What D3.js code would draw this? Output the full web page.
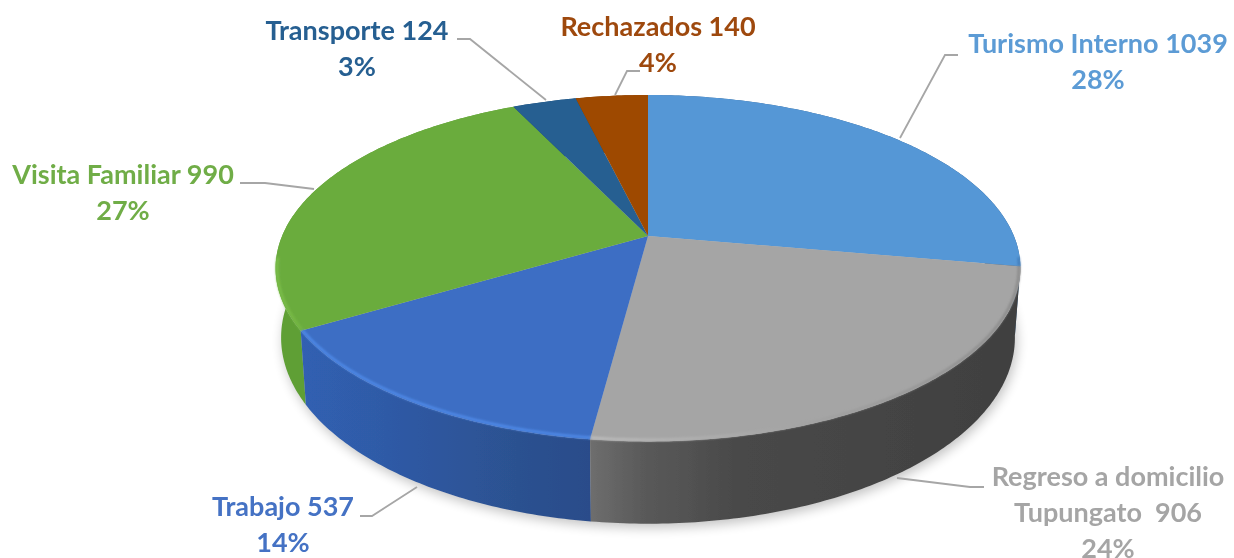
<!DOCTYPE html>
<html><head><meta charset="utf-8">
<script src="https://cdn.jsdelivr.net/npm/d3@7"></script>
<style>html,body{margin:0;background:#fff;overflow:hidden}text{font-family:Lato,sans-serif;font-weight:700;text-anchor:middle}</style>
</head><body><svg id="c" width="1234" height="558"></svg>
<script>
const categories=["Turismo Interno","Regreso a domicilio Tupungato","Trabajo","Visita Familiar","Transporte","Rechazados"];
const values=[1039,906,537,990,124,140];
const percents=["28%","24%","14%","27%","3%","4%"];
const labelLines=[["Turismo Interno 1039","28%"],["Regreso a domicilio","Tupungato  906","24%"],["Trabajo 537","14%"],["Visita Familiar 990","27%"],["Transporte 124","3%"],["Rechazados 140","4%"]];
const topColors=["#5597d6","#a5a5a5","#3d6ec4","#6bac3e","#255e91","#9e4a02"];
const textColors=["#5b9bd5","#a5a5a5","#4472c4","#70ad47","#255e91","#9e480e"];
const rimStops=[
 [["#4a86c5",0],["#3f74ad",1]],
 [["#bdbdbd",0],["#a8a8a8",.4],["#8a8a8a",1]],
 [["#4f8ae8",0],["#4f8ae8",1]],
 [["#7cc04a",0],["#74b644",1]],
 [["#255e91",0],["#255e91",1]],
 [["#9e4a02",0],["#9e4a02",1]]];
const wallStops=[
 [["#3c6a98",0],["#2e5a88",1]],
 [["#6e6e6e",0],["#5a5a5a",.12],["#484848",.36],["#404040",1]],
 [["#3060b2",0],["#2f5aa6",.3],["#2c5190",.75],["#2a4c8a",1]],
 [["#5f9f36",0],["#5f9f36",1]],
 [["#1d4a72",0],["#1d4a72",1]],
 [["#7a3902",0],["#7a3902",1]]];
const labelAnchors=[[1098,53],[1108,486],[283,516],[123,184],[357,40],[658,36]];
const leaders=[[[900,138],[945,55],[958,55]],[[897,478],[970,487],[984,487]],[[417,487],[372,516],[360,516]],[[314,189],[265,183],[240,183]],[[546,100],[470,39],[457,39]],[[615,95],[627,71],[640,71]]];

const svg=d3.select("#c"),defs=svg.append("defs");
const cx=648,sx=365.9,apexY=236,aY=123.3,persp=-0.186,drop=67,sxBottom=360.5;
const topPt=t=>{const u=Math.sin(t),v=-Math.cos(t),w=1+persp*v;return [cx+sx*u/w,(aY*v+apexY)/w]};
const botPt=t=>{const u=Math.sin(t),v=-Math.cos(t),w=1+persp*v;return [cx+sxBottom*u/w,(aY*v+apexY+drop)/w]};
const arcs=d3.pie().sort(null).startAngle(0).endAngle(2*Math.PI)(values);
const samples=(a,b)=>{const n=Math.max(8,Math.ceil((b-a)*80));return d3.range(n+1).map(i=>a+(b-a)*i/n)};
const line=d3.line();
const hGrad=(id,xs,stops)=>{
 const grad=defs.append("linearGradient").attr("id",id).attr("gradientUnits","userSpaceOnUse").attr("x1",d3.min(xs)).attr("x2",d3.max(xs)).attr("y1",0).attr("y2",0);
 stops.forEach(s=>grad.append("stop").attr("offset",s[1]).attr("stop-color",s[0]));
};

defs.append("filter").attr("id","soft").attr("x","-5%").attr("y","-5%").attr("width","110%").attr("height","110%").append("feGaussianBlur").attr("stdDeviation",0.7);
defs.append("filter").attr("id","shadow").attr("x","-10%").attr("y","-20%").attr("width","120%").attr("height","140%").append("feGaussianBlur").attr("stdDeviation",6);
defs.append("filter").attr("id","rim").attr("filterUnits","userSpaceOnUse").attr("x",0).attr("y",0).attr("width",1234).attr("height",558).append("feGaussianBlur").attr("stdDeviation",1.1);

const g=svg.append("g").attr("filter","url(#soft)");

g.append("path").attr("d",line(samples(0,2*Math.PI).map(t=>{const p=botPt(t);return [p[0]+2,p[1]+4]}))+"Z").attr("fill","#000").attr("opacity",.24).attr("filter","url(#shadow)");

const order=arcs.map((d,i)=>i).sort((p,q)=>{const f=d=>d3.max(samples(d.startAngle,d.endAngle),t=>-Math.cos(t));return f(arcs[p])-f(arcs[q])});
order.forEach(i=>{
 const d=arcs[i],ts=samples(d.startAngle,d.endAngle);
 const pts=ts.map(topPt).concat(ts.slice().reverse().map(botPt));
 hGrad("w"+i,pts.map(p=>p[0]),wallStops[i]);
 g.append("path").attr("d",line(pts)+"Z").attr("fill",`url(#w${i})`);
});

arcs.forEach((d,i)=>{
 const pts=[[cx,apexY]].concat(samples(d.startAngle,d.endAngle).map(topPt));
 g.append("path").attr("d",line(pts)+"Z").attr("fill",topColors[i]);
});

arcs.forEach((d,i)=>{
 const ts=samples(d.startAngle,d.endAngle).filter(t=>-Math.cos(t)>0.12);
 if(ts.length<2)return;
 const pts=ts.map(t=>{const p=topPt(t);return [cx+(p[0]-cx)*.996,apexY+(p[1]-apexY)*.992]});
 hGrad("r"+i,pts.map(p=>p[0]),rimStops[i]);
 g.append("path").attr("d",line(pts)).attr("fill","none").attr("stroke",`url(#r${i})`).attr("stroke-width",2.6).attr("filter","url(#rim)");
});

const lg=svg.append("g").attr("filter","url(#soft)");
leaders.forEach(l=>lg.append("path").attr("d",line(l)).attr("fill","none").attr("stroke","#a6a6a6").attr("stroke-width",1.8));
labelLines.forEach((ls,i)=>{
 ls.forEach((s,j)=>lg.append("text").attr("x",labelAnchors[i][0]).attr("y",labelAnchors[i][1]+j*36).attr("font-size",27).attr("fill",textColors[i]).style("white-space","pre").text(s));
});
</script></body></html>
